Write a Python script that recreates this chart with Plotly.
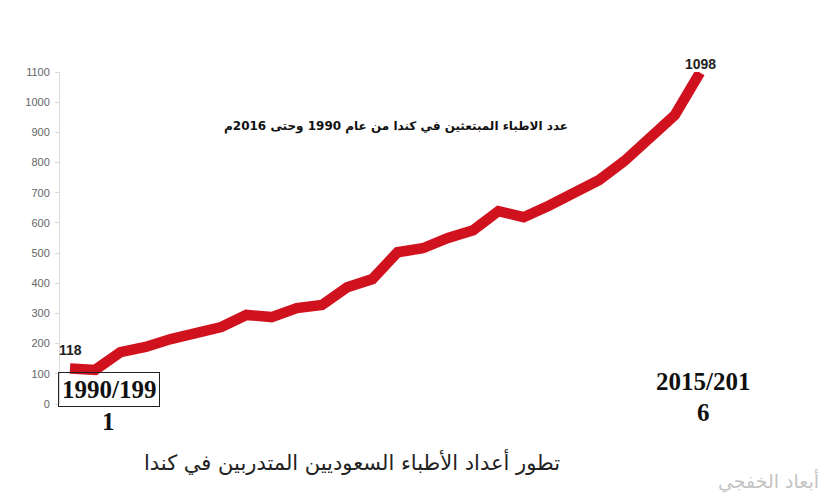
import plotly.graph_objects as go

# Data: number of Saudi doctors training in Canada, 1990/1991 .. 2015/2016
years = ["1990/1991", "1991/1992", "1992/1993", "1993/1994", "1994/1995", "1995/1996",
         "1996/1997", "1997/1998", "1998/1999", "1999/2000", "2000/2001", "2001/2002",
         "2002/2003", "2003/2004", "2004/2005", "2005/2006", "2006/2007", "2007/2008",
         "2008/2009", "2009/2010", "2010/2011", "2011/2012", "2012/2013", "2013/2014",
         "2014/2015", "2015/2016"]
doctors = [118, 113, 172, 189, 215, 235, 255, 295, 288, 318, 328, 387, 414, 503, 516,
           550, 576, 639, 619, 657, 702, 742, 805, 881, 957, 1098]
y_ticks = [0, 100, 200, 300, 400, 500, 600, 700, 800, 900, 1000, 1100]

OFF = 8  # default page body margin
W, H = 830 - OFF, 500 - OFF
L, T = 60 - OFF, 72 - OFF
R = W - (720 - OFF)
B = H - (404 - OFF)
pw, ph = W - L - R, H - T - B

def px(x):
    return (x - OFF - L) / pw

def py(y):
    return (H - B - (y - OFF)) / ph

idx = list(range(len(years)))

fig = go.Figure()
fig.add_trace(go.Scatter(
    x=idx, y=doctors, mode="lines",
    line=dict(color="#d0121f", width=10.5),
    hoverinfo="text", text=[f"{y}: {v}" for y, v in zip(years, doctors)],
    showlegend=False,
))

# ~25.2 px per year; first point at x=70, last at x=700 (page px)
n = len(years) - 1
span = n * pw / 630.0
a = -10 * span / pw
fig.update_xaxes(range=[a, a + span], visible=False)
fig.update_yaxes(range=[0, 1100], tickvals=y_ticks, showgrid=False, zeroline=False,
                 showline=True, linecolor="#d9d9d9", linewidth=1,
                 ticks="outside", ticklen=4, tickcolor="#d9d9d9", ticklabelstandoff=3,
                 tickfont=dict(family="Liberation Sans", size=11, color="#666666"))

serif = dict(family="Liberation Serif", size=25, color="#111")
lab = dict(family="Liberation Sans", size=14, color="#222")
ann = []
ann.append(dict(x=0, y=doctors[0], xref="x", yref="y", text="<b>118</b>", showarrow=False,
                yanchor="middle", yshift=18, font=lab))
ann.append(dict(x=n, y=doctors[-1], xref="x", yref="y", text="<b>1098</b>", showarrow=False,
                yanchor="middle", yshift=9, font=lab))
ann.append(dict(x=px(396), y=py(126), xref="paper", yref="paper", xanchor="center", yanchor="middle",
                text="<b>عدد الاطباء المبتعثين في كندا من عام 1990 وحتى 2016م</b>",
                showarrow=False, font=dict(family="DejaVu Sans", size=12, color="#111")))
ann.append(dict(x=px(109), y=py(389), xref="paper", yref="paper", xanchor="center", yanchor="middle",
                text="<b>1990/199</b>", showarrow=False, bordercolor="#222", borderwidth=1, borderpad=3,
                font=serif))
ann.append(dict(x=px(108), y=py(421), xref="paper", yref="paper", xanchor="center", yanchor="middle",
                text="<b>1</b>", showarrow=False, font=serif))
ann.append(dict(x=px(703), y=py(381), xref="paper", yref="paper", xanchor="center", yanchor="middle",
                text="<b>2015/201</b>", showarrow=False, font=serif))
ann.append(dict(x=px(703), y=py(412), xref="paper", yref="paper", xanchor="center", yanchor="middle",
                text="<b>6</b>", showarrow=False, font=serif))
ann.append(dict(x=px(352), y=py(462), xref="paper", yref="paper", xanchor="center", yanchor="middle",
                text="تطور أعداد الأطباء السعوديين المتدربين في كندا",
                showarrow=False, font=dict(family="DejaVu Sans", size=21, color="#222")))
ann.append(dict(x=px(768), y=py(481), xref="paper", yref="paper", xanchor="center", yanchor="middle",
                text="أبعاد الخفجي",
                showarrow=False, font=dict(family="DejaVu Sans", size=19, color="#c4c4c4")))

fig.update_layout(width=W, height=H, margin=dict(l=L, r=R, t=T, b=B),
                  paper_bgcolor="white", plot_bgcolor="white", annotations=ann)

fig.write_html("out.html")
